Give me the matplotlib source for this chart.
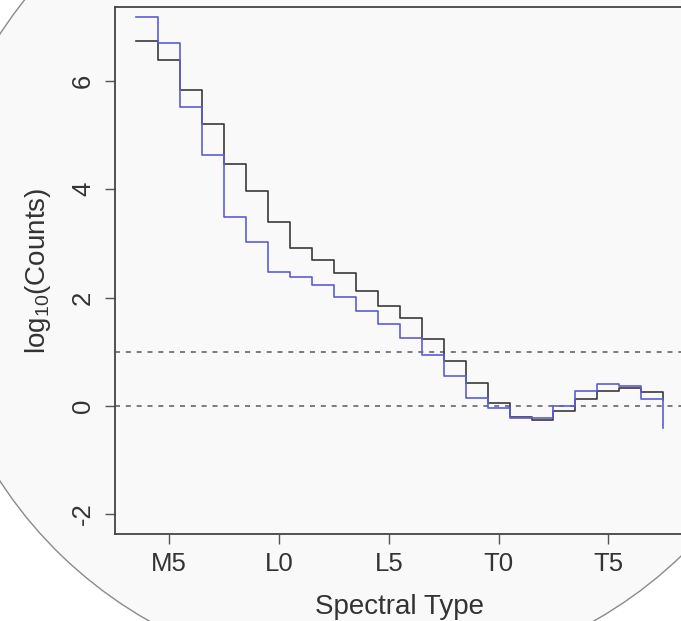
import matplotlib
matplotlib.use("Agg")
import matplotlib.pyplot as plt
from matplotlib.patches import Ellipse
import numpy as np

# ---- data ----
# bins centred on spectral subtypes (M0=0, L0=10, T0=20), M4 .. T7
bin_centers = list(range(4, 28))
black_vals = [6.74, 6.38, 5.84, 5.21, 4.47, 3.97, 3.39, 2.92, 2.69, 2.46, 2.12, 1.85,
              1.62, 1.24, 0.83, 0.42, 0.06, -0.21, -0.26, -0.10, 0.12, 0.28, 0.32, 0.25]
black_end = 0.11
blue_vals = [7.18, 6.71, 5.52, 4.64, 3.48, 3.02, 2.48, 2.37, 2.24, 2.01, 1.75, 1.51,
             1.26, 0.93, 0.55, 0.15, -0.04, -0.23, -0.23, 0.00, 0.27, 0.41, 0.36, 0.12]
blue_end = -0.41
ref_lines = [0, 1]
xtick_pos = [5, 10, 15, 20, 25]
xtick_labels = ["M5", "L0", "L5", "T0", "T5"]
ytick_pos = [-2, 0, 2, 4, 6]

plt.rcParams['font.family'] = ['Liberation Sans', 'DejaVu Sans']
plt.rcParams['mathtext.fontset'] = 'custom'
plt.rcParams['mathtext.rm'] = 'Liberation Sans'

W, H = 681, 621
fig = plt.figure(figsize=(W / 100, H / 100), dpi=100, facecolor='white')

# background circle (slide decoration)
bg = '#f9f9f9'
ell = Ellipse((371.5 / W, 1 - 257.5 / H), 2 * 438 / W, 2 * 422 / H,
              transform=fig.transFigure, facecolor=bg, edgecolor='#8a8a8a',
              linewidth=1.0, zorder=0)
fig.add_artist(ell)

left, right, top, bottom = 115.3, 684.3, 7.4, 533.5
ax = fig.add_axes([left / W, 1 - bottom / H, (right - left) / W, (bottom - top) / H])
ax.set_facecolor(bg)

edges = np.array(bin_centers + [bin_centers[-1] + 1]) - 0.5
ax.step(edges, black_vals + [black_end], where='post', color='#3a3a3a', lw=1.2, zorder=3)
ax.step(edges, blue_vals + [blue_end], where='post', color='#5c5cd6', lw=1.2, zorder=4)
for v in ref_lines:
    ax.axhline(v, color='#666666', lw=1.2, ls=(0, (3, 3.5)), zorder=2)

ax.set_xlim(2.54, 28.46)
ax.set_ylim(-2.36, 7.36)

tc = '#333333'
ax.set_xticks(xtick_pos)
ax.set_xticklabels(xtick_labels, fontsize=18.5, color=tc)
ax.set_yticks(ytick_pos)
ax.set_yticklabels([str(v) for v in ytick_pos], fontsize=18.5, color=tc,
                   rotation=90, va='center')
ax.tick_params(axis='both', direction='out', length=7.5, width=1.0, color='#555555')
ax.tick_params(axis='x', pad=6)
ax.tick_params(axis='y', pad=7)
for s in ax.spines.values():
    s.set_color('#444444')
    s.set_linewidth(1.3)

ax.set_xlabel('Spectral Type', fontsize=20, color=tc, labelpad=13)
ax.set_ylabel(r'$\mathregular{log_{10}}$(Counts)', fontsize=20, color=tc, labelpad=13)

fig.savefig('out.png', dpi=100, facecolor='white')
